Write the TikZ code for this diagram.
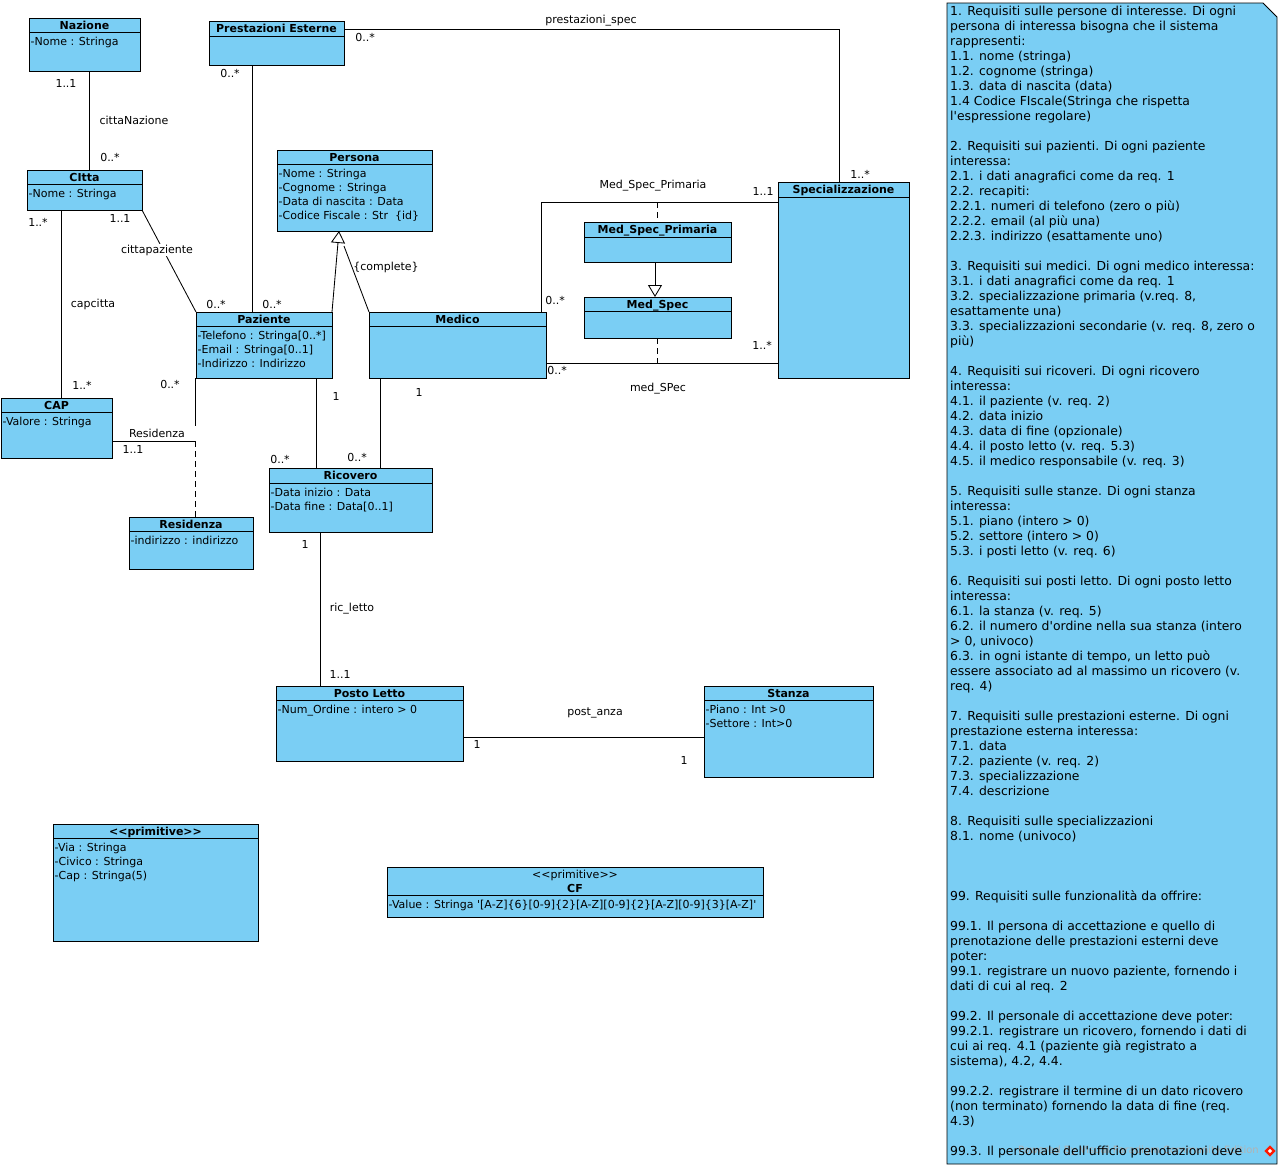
\documentclass[tikz,border=0pt]{standalone}
\usepackage{fontspec}
\newfontfamily\dv{DejaVu Sans}
\usetikzlibrary{arrows.meta}
\definecolor{umlfill}{RGB}{122,206,244}
% class box: id, x, y, width, height, header height, title, attributes
\newcommand\umlclass[8]{%
  \node[cls, minimum width=#4pt, minimum height=#5pt, anchor=north west] (#1) at (#2,#3) {};
  \draw[cls line] ([yshift=-#6pt]#1.north west) -- ([yshift=-#6pt]#1.north east);
  \node[ctitle, anchor=base] (#1-t) at ([yshift=-11pt]#1.north) {#7};
  \node[cattr, anchor=north west] (#1-a) at ([xshift=1.5pt,yshift=-#6pt-4.5pt]#1.north west) {#8};
}
\begin{document}
\begin{tikzpicture}[x=1pt,y=-1pt,
  font=\dv\fontsize{11}{14}\selectfont,
  cls/.style={draw=black, line width=0.95pt, fill=umlfill, rectangle, inner sep=0pt, outer sep=0pt},
  cls line/.style={draw=black, line width=0.95pt},
  ctitle/.style={inner sep=0pt, font=\dv\bfseries\fontsize{11}{14}\selectfont},
  cattr/.style={inner sep=0pt, align=left, font=\dv\fontsize{11}{14}\selectfont},
  mult/.style={inner sep=0pt, font=\dv\fontsize{11}{14}\selectfont},
  assoc/.style={draw=black, line width=0.85pt},
  assocdash/.style={draw=black, line width=0.85pt, dash pattern=on 6pt off 4pt},
  gen/.style={draw=black, line width=0.85pt, -{Triangle[open, length=12pt, width=14pt]}},
]
\useasboundingbox (0,0) rectangle (1282,1168);

% ---------- classes ----------
\umlclass{nazione}{29}{18}{111}{53}{14}{Nazione}{-Nome : Stringa}
\umlclass{citta}{27}{170}{115}{40}{14}{CItta}{-Nome : Stringa}
\umlclass{prest}{209}{21}{135}{44}{15}{Prestazioni Esterne}{}
\umlclass{persona}{277}{150}{155}{81}{14}{Persona}{-Nome : Stringa\\-Cognome : Stringa\\-Data di nascita : Data\\-Codice Fiscale : Str\ \ \{id\}}
\umlclass{paziente}{196}{312}{136}{66}{14}{Paziente}{-Telefono : Stringa[0..*]\\-Email : Stringa[0..1]\\-Indirizzo : Indirizzo}
\umlclass{medico}{369}{312}{177}{66}{14}{Medico}{}
\umlclass{cap}{1}{398}{111}{60}{14}{CAP}{-Valore : Stringa}
\umlclass{residenza}{129}{517}{124}{52}{14}{Residenza}{-indirizzo : indirizzo}
\umlclass{ricovero}{269}{468}{163}{64}{15}{Ricovero}{-Data inizio : Data\\-Data fine : Data[0..1]}
\umlclass{msp}{584}{222}{147}{40}{15}{Med\_Spec\_Primaria}{}
\umlclass{ms}{584}{297}{147}{41}{14}{Med\_Spec}{}
\umlclass{spec}{778}{182}{131}{196}{15}{Specializzazione}{}
\umlclass{posto}{276}{686}{187}{75}{14}{Posto Letto}{-Num\_Ordine : intero > 0}
\umlclass{stanza}{704}{686}{169}{91}{14}{Stanza}{-Piano : Int >0\\-Settore : Int>0}
\umlclass{prim}{53}{824}{205}{117}{14}{<<primitive>>}{-Via : Stringa\\-Civico : Stringa\\-Cap : Stringa(5)}

% primitive CF with a two-line header
\node[cls, minimum width=376pt, minimum height=50pt, anchor=north west] (cf) at (387,867) {};
\draw[cls line] ([yshift=-28pt]cf.north west) -- ([yshift=-28pt]cf.north east);
\node[mult, anchor=base] (cf-s) at ([yshift=-11pt]cf.north) {<<primitive>>};
\node[ctitle, anchor=base] (cf-t) at ([yshift=-25pt]cf.north) {CF};
\node[cattr, anchor=north west] (cf-a) at ([xshift=1.5pt,yshift=-32.5pt]cf.north west)
  {-Value : Stringa '[A-Z]\{6\}[0-9]\{2\}[A-Z][0-9]\{2\}[A-Z][0-9]\{3\}[A-Z]'};

% ---------- connectors ----------
\draw[assoc] (89,0 |- nazione.south) -- (89,0 |- citta.north);
\draw[assoc] (prest.east |- 0,29) -- (839,29) -- (839,0 |- spec.north);
\draw[assoc] (252,0 |- prest.south) -- (252,0 |- paziente.north);
\draw[assoc] (citta.south east) -- (paziente.north west);
\draw[assoc] (61,0 |- citta.south) -- (61,0 |- cap.north);
% Residenza association with its association class
\coordinate (resj) at (195,441);
\draw[assoc] (195,0 |- paziente.south) -- (195,426);
\draw[assoc] (cap.east |- resj) -- (resj);
\draw[assocdash] (resj) -- (resj |- residenza.north);
% generalisation Paziente / Medico -> Persona
\draw[gen] (paziente.north east) -- (339,0 |- persona.south);
\draw[assoc] (medico.north west) -- (344,246);
% Ricovero links
\draw[assoc] (316,0 |- paziente.south) -- (316,0 |- ricovero.north);
\draw[assoc] (380,0 |- medico.south) -- (380,0 |- ricovero.north);
\draw[assoc] (320,0 |- ricovero.south) -- (320,0 |- posto.north);
\draw[assoc] (posto.east |- 0,737) -- (stanza.west |- 0,737);
% Medico - Specializzazione
\coordinate (mspj) at (657,202);
\coordinate (msj) at (657,363);
\draw[assoc] (541,0 |- medico.north) -- (541,202) -- (spec.west |- mspj);
\draw[assocdash] (mspj) -- (mspj |- msp.north);
\draw[gen] (655,0 |- msp.south) -- (655,0 |- ms.north);
\draw[assoc] (medico.east |- msj) -- (spec.west |- msj);
\draw[assocdash] (msj |- ms.south) -- (msj);

% ---------- labels ----------
\node[mult] (l1) at (66,83) {1..1};
\node[mult] (l2) at (134,120) {cittaNazione};
\node[mult] (l3) at (110,157) {0..*};
\node[mult] (l4) at (365,37) {0..*};
\node[mult] (l5) at (591,21) {prestazioni\_spec};
\node[mult] (l6) at (860,174) {1..*};
\node[mult] (l7) at (230,73) {0..*};
\node[mult] (l8) at (272,304) {0..*};
\node[mult] (l9) at (216,304) {0..*};
\node[mult] (l10) at (120,218) {1..1};
\node[mult, fill=white, inner sep=1pt] (l11) at (157,250) {cittapaziente};
\node[mult] (l12) at (38,222) {1..*};
\node[mult] (l13) at (93,304) {capcitta};
\node[mult] (l14) at (82,385) {1..*};
\node[mult] (l15) at (170,384) {0..*};
\node[mult] (l16) at (157,433) {Residenza};
\node[mult] (l17) at (133,449) {1..1};
\node[mult] (l18) at (336,396) {1};
\node[mult] (l19) at (419,392) {1};
\node[mult] (l20) at (280,459) {0..*};
\node[mult] (l21) at (357,457) {0..*};
\node[mult] (l22) at (305,544) {1};
\node[mult] (l23) at (352,609) {ric\_letto};
\node[mult] (l24) at (340,674) {1..1};
\node[mult] (l25) at (595,713) {post\_anza};
\node[mult] (l26) at (477,744) {1};
\node[mult] (l27) at (684,760) {1};
\node[mult] (l28) at (555,300) {0..*};
\node[mult] (l29) at (653,186) {Med\_Spec\_Primaria};
\node[mult] (l30) at (763,191) {1..1};
\node[mult] (l31) at (762,345) {1..*};
\node[mult] (l32) at (557,370) {0..*};
\node[mult] (l33) at (658,389) {med\_SPec};
\node[mult] (l34) at (386,267) {\{complete\}};

% ---------- requirements note ----------
\path[fill=umlfill, draw=black, line width=0.95pt] (947,3) -- (1263,3) -- (1277,17) -- (1277,1164) -- (947,1164) -- cycle;
\node[inner sep=0pt, anchor=east, text=black!30, font=\dv\fontsize{10}{12}\selectfont] (wm) at (1259,1151) {Powered By Visual Paradigm Community Edition};
\node[fill=red!80!orange, rotate=45, minimum size=8pt, inner sep=0pt] (wmlogo) at (1270,1151) {};
\node[fill=white, rotate=45, minimum size=3pt, inner sep=0pt] (wmlogo2) at (1270,1151) {};
\begin{scope}
\clip (947,3) rectangle (1277,1163);
\node[inner sep=0pt, anchor=north west, align=left, font=\dv\fontsize{12.4}{15}\selectfont] (note) at (950,6) {%
1. Requisiti sulle persone di interesse. Di ogni\\
persona di interessa bisogna che il sistema\\
rappresenti:\\
1.1. nome (stringa)\\
1.2. cognome (stringa)\\
1.3. data di nascita (data)\\
1.4 Codice FIscale(Stringa che rispetta\\
l'espressione regolare)\\
\mbox{}\\
2. Requisiti sui pazienti. Di ogni paziente\\
interessa:\\
2.1. i dati anagrafici come da req. 1\\
2.2. recapiti:\\
2.2.1. numeri di telefono (zero o più)\\
2.2.2. email (al più una)\\
2.2.3. indirizzo (esattamente uno)\\
\mbox{}\\
3. Requisiti sui medici. Di ogni medico interessa:\\
3.1. i dati anagrafici come da req. 1\\
3.2. specializzazione primaria (v.req. 8,\\
esattamente una)\\
3.3. specializzazioni secondarie (v. req. 8, zero o\\
più)\\
\mbox{}\\
4. Requisiti sui ricoveri. Di ogni ricovero\\
interessa:\\
4.1. il paziente (v. req. 2)\\
4.2. data inizio\\
4.3. data di fine (opzionale)\\
4.4. il posto letto (v. req. 5.3)\\
4.5. il medico responsabile (v. req. 3)\\
\mbox{}\\
5. Requisiti sulle stanze. Di ogni stanza\\
interessa:\\
5.1. piano (intero > 0)\\
5.2. settore (intero > 0)\\
5.3. i posti letto (v. req. 6)\\
\mbox{}\\
6. Requisiti sui posti letto. Di ogni posto letto\\
interessa:\\
6.1. la stanza (v. req. 5)\\
6.2. il numero d'ordine nella sua stanza (intero\\
> 0, univoco)\\
6.3. in ogni istante di tempo, un letto può\\
essere associato ad al massimo un ricovero (v.\\
req. 4)\\
\mbox{}\\
7. Requisiti sulle prestazioni esterne. Di ogni\\
prestazione esterna interessa:\\
7.1. data\\
7.2. paziente (v. req. 2)\\
7.3. specializzazione\\
7.4. descrizione\\
\mbox{}\\
8. Requisiti sulle specializzazioni\\
8.1. nome (univoco)\\
\mbox{}\\
\mbox{}\\
\mbox{}\\
99. Requisiti sulle funzionalità da offrire:\\
\mbox{}\\
99.1. Il persona di accettazione e quello di\\
prenotazione delle prestazioni esterni deve\\
poter:\\
99.1. registrare un nuovo paziente, fornendo i\\
dati di cui al req. 2\\
\mbox{}\\
99.2. Il personale di accettazione deve poter:\\
99.2.1. registrare un ricovero, fornendo i dati di\\
cui ai req. 4.1 (paziente già registrato a\\
sistema), 4.2, 4.4.\\
\mbox{}\\
99.2.2. registrare il termine di un dato ricovero\\
(non terminato) fornendo la data di fine (req.\\
4.3)\\
\mbox{}\\
99.3. Il personale dell'ufficio prenotazioni deve};
\end{scope}
\end{tikzpicture}
\end{document}
